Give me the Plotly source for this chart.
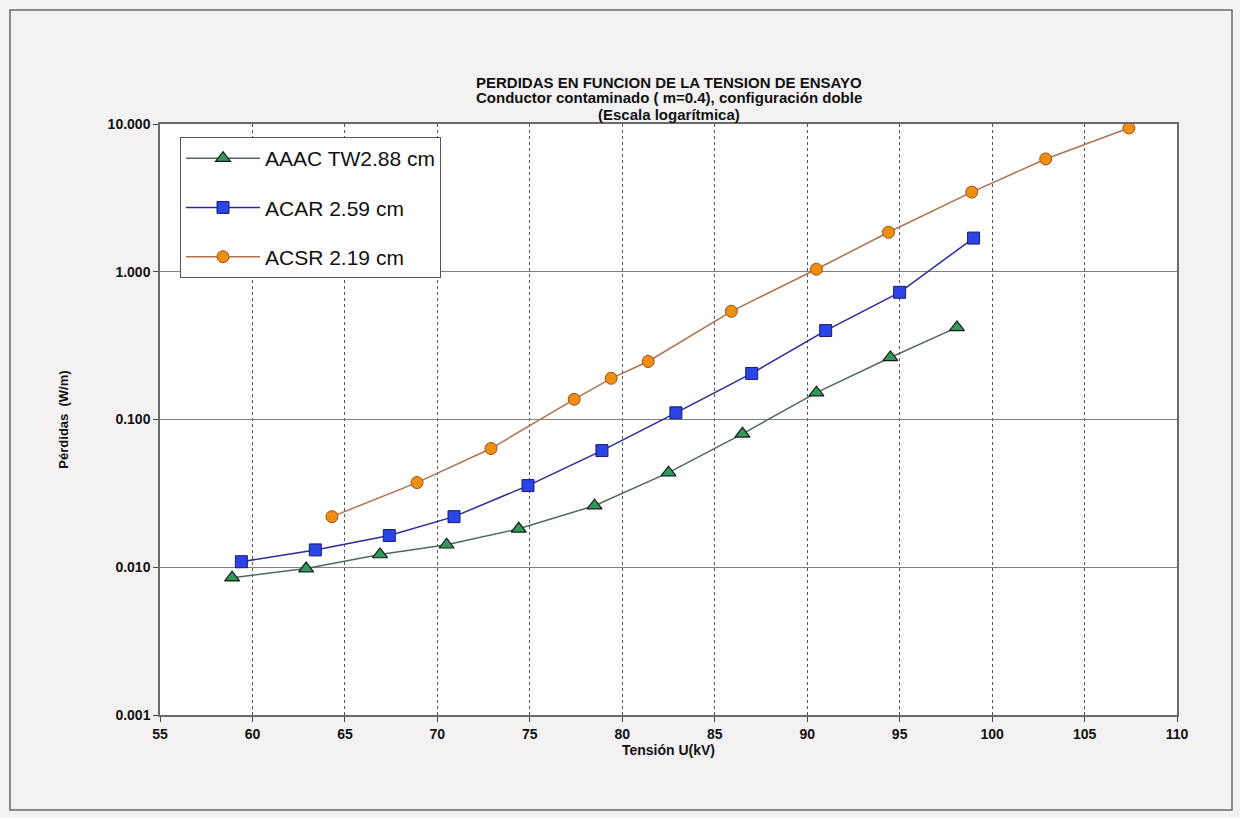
import plotly.graph_objects as go

# ---- data ----
aaac_x = [58.9, 62.9, 66.9, 70.5, 74.4, 78.5, 82.5, 86.5, 90.5, 94.5, 98.1]
aaac_y = [0.0085, 0.0098, 0.0122, 0.0142, 0.0182, 0.0261, 0.0437, 0.080, 0.152, 0.263, 0.42]

acar_x = [59.4, 63.4, 67.4, 70.9, 74.9, 78.9, 82.9, 87.0, 91.0, 95.0, 99.0]
acar_y = [0.0109, 0.0131, 0.0164, 0.0220, 0.0357, 0.0616, 0.111, 0.205, 0.40, 0.726, 1.69]

acsr_x = [64.3, 68.9, 72.9, 77.4, 79.4, 81.4, 85.9, 90.5, 94.4, 98.9, 102.9, 107.4]
acsr_y = [0.022, 0.0374, 0.0636, 0.137, 0.19, 0.247, 0.54, 1.04, 1.85, 3.46, 5.8, 9.4]

series_names = ["AAAC TW2.88 cm", "ACAR 2.59 cm", "ACSR 2.19 cm"]

y_tickvals = [0.001, 0.01, 0.1, 1, 10]
y_ticktext = ["0.001", "0.010", "0.100", "1.000", "10.000"]
x_tickvals = [55, 60, 65, 70, 75, 80, 85, 90, 95, 100, 105, 110]

title_lines = [
    "PERDIDAS EN FUNCION DE LA TENSION DE ENSAYO",
    "Conductor contaminado ( m=0.4), configuración doble",
    "(Escala logarítmica)",
]

FONT = "Liberation Sans"

fig = go.Figure()
fig.add_trace(go.Scatter(
    x=aaac_x, y=aaac_y, name=series_names[0], mode="lines+markers",
    legendgroup="g1",
    line=dict(color="#4f6a57", width=1.5),
    marker=dict(symbol="triangle-up", size=13, color="#2f9a5a",
                line=dict(color="#1a1a1a", width=1.2)),
))
fig.add_trace(go.Scatter(
    x=acar_x, y=acar_y, name=series_names[1], mode="lines+markers",
    legendgroup="g2",
    line=dict(color="#2a2a9a", width=1.5),
    marker=dict(symbol="square", size=12, color="#2b44e6",
                line=dict(color="#1c1c70", width=1)),
))
fig.add_trace(go.Scatter(
    x=acsr_x, y=acsr_y, name=series_names[2], mode="lines+markers",
    legendgroup="g3",
    line=dict(color="#b0714f", width=1.5),
    marker=dict(symbol="circle", size=12, color="#f08e12",
                line=dict(color="#9a5212", width=1)),
))

L, R, T, B = 160, 63, 124, 103
W, H = 1240, 818
pw, ph = W - L - R, H - T - B

def px_x(p):
    return (p - L) / pw

def px_y(p):
    return (H - B - p) / ph

annotations = []
for txt, yy in zip(title_lines, [82, 98, 114]):
    annotations.append(dict(
        text="<b>" + txt + "</b>", x=0.5, xref="paper", y=px_y(yy), yref="paper",
        xanchor="center", yanchor="middle", showarrow=False,
        font=dict(family=FONT, size=15, color="#111111"),
    ))

fig.update_layout(
    width=W, height=H,
    margin=dict(l=L, r=R, t=T, b=B, autoexpand=False),
    paper_bgcolor="#f3f1f2",
    plot_bgcolor="#ffffff",
    font=dict(family=FONT, color="#111111"),
    annotations=annotations,
    showlegend=True,
    legend=dict(
        x=px_x(180), y=px_y(137), xanchor="left", yanchor="top",
        bgcolor="#ffffff", bordercolor="#555555", borderwidth=1,
        font=dict(family=FONT, size=21, color="#111111"),
        tracegroupgap=19, itemwidth=74,
        traceorder="grouped",
    ),
    shapes=[dict(
        type="rect", xref="paper", yref="paper",
        x0=px_x(10), x1=px_x(1232), y0=px_y(810), y1=px_y(10),
        line=dict(color="#6a6a6a", width=1.5), fillcolor="rgba(0,0,0,0)",
        layer="below",
    )],
)

fig.update_xaxes(
    range=[55, 110], tickvals=x_tickvals,
    ticktext=["<b>%d</b>" % v for v in x_tickvals],
    tickfont=dict(family=FONT, size=14, color="#111111"),
    ticks="outside", ticklen=5, tickcolor="#444444",
    showline=True, linecolor="#6a6a6a", linewidth=1.5, mirror=True,
    showgrid=True, gridcolor="#555555", gridwidth=1, griddash="dot",
    zeroline=False,
    title=dict(text="<b>Tensión U(kV)</b>", font=dict(family=FONT, size=14, color="#111111"), standoff=1),
)
fig.update_yaxes(
    type="log", range=[-3, 1], tickvals=y_tickvals,
    ticktext=["<b>" + t + "</b>" for t in y_ticktext],
    tickfont=dict(family=FONT, size=14, color="#111111"),
    ticks="outside", ticklen=5, tickcolor="#444444",
    showline=True, linecolor="#6a6a6a", linewidth=1.5, mirror=True,
    showgrid=True, gridcolor="#808080", gridwidth=1,
    zeroline=False,
    title=dict(text="<b>Pérdidas  (W/m)</b>", font=dict(family=FONT, size=13, color="#111111"), standoff=36),
)

fig.write_html("out.html", config={"displayModeBar": False},
               post_script="document.body.style.margin='0px';")
